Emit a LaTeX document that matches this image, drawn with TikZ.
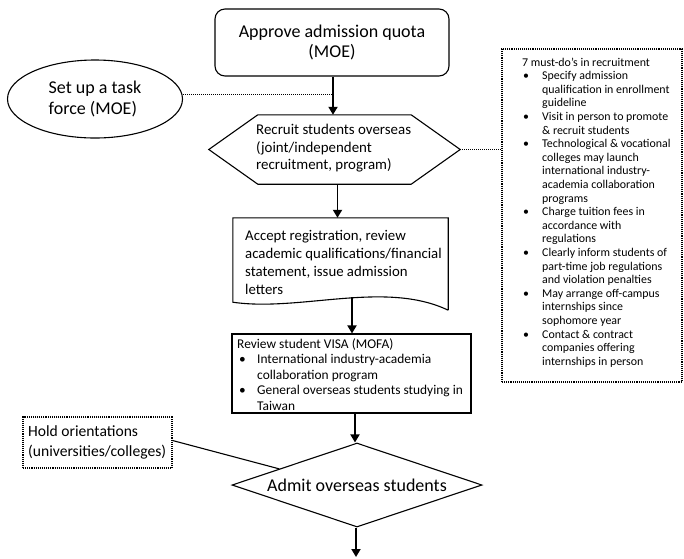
\documentclass[tikz,border=0pt]{standalone}
\usepackage{fontspec}
\setmainfont{Carlito}
\usetikzlibrary{shapes.geometric,arrows.meta,calc}
\begin{document}
\begin{tikzpicture}[x=1pt,y=-1pt,
  box/.style={draw, line width=1.1pt, inner sep=0pt},
  dotbox/.style={draw, line width=1.1pt, densely dotted, inner sep=0pt},
  arr/.style={line width=1.8pt,-{Triangle[length=8pt,width=9pt]}},
  dotline/.style={line width=1pt,densely dotted},
  plain/.style={line width=1.1pt},
  ghost/.style={inner sep=0pt, draw=none},
  txt/.style={inner sep=0pt, align=left, anchor=base west},
]
\useasboundingbox (0,0) rectangle (684,558);

% Approve
\node[box, rounded corners=10pt, minimum width=234pt, minimum height=67pt, align=center,
  font=\fontsize{18}{20.5}\selectfont] (approve) at (332,42.5) {Approve admission quota\\(MOE)};

% Task force ellipse
\node[box, ellipse, minimum width=175pt, minimum height=78pt, align=left,
  font=\fontsize{18}{21}\selectfont] (task) at (95,99) {Set up a task\\force (MOE)};

% Hexagon
\node[ghost, minimum width=251pt, minimum height=69pt] (hex) at (334.5,149.5) {};
\draw[plain] (hex.west) -- ([xshift=49pt]hex.north west) -- ([xshift=-49pt]hex.north east)
  -- (hex.east) -- ([xshift=-49pt]hex.south east) -- ([xshift=49pt]hex.south west) -- cycle;
\node[txt, font=\fontsize{14.9}{17.5}\selectfont] (hext) at (256,169.5) {Recruit students overseas\\(joint/independent\\recruitment, program)};

% Must-do box
\node[dotbox, minimum width=180pt, minimum height=333pt] (must) at (592,215.5) {};
\node[txt, font=\fontsize{11.9}{13.6}\selectfont] (mustt) at (522,365.2) {%
7 must-do’s in recruitment\\
\makebox[20pt][l]{\hspace{1pt}•}Specify admission\\
\hspace*{20pt}qualification in enrollment\\
\hspace*{20pt}guideline\\
\makebox[20pt][l]{\hspace{1pt}•}Visit in person to promote\\
\hspace*{20pt}\& recruit students\\
\makebox[20pt][l]{\hspace{1pt}•}Technological \& vocational\\
\hspace*{20pt}colleges may launch\\
\hspace*{20pt}international industry-\\
\hspace*{20pt}academia collaboration\\
\hspace*{20pt}programs\\
\makebox[20pt][l]{\hspace{1pt}•}Charge tuition fees in\\
\hspace*{20pt}accordance with\\
\hspace*{20pt}regulations\\
\makebox[20pt][l]{\hspace{1pt}•}Clearly inform students of\\
\hspace*{20pt}part-time job regulations\\
\hspace*{20pt}and violation penalties\\
\makebox[20pt][l]{\hspace{1pt}•}May arrange off-campus\\
\hspace*{20pt}internships since\\
\hspace*{20pt}sophomore year\\
\makebox[20pt][l]{\hspace{1pt}•}Contact \& contract\\
\hspace*{20pt}companies offering\\
\hspace*{20pt}internships in person};

% Document (wave) box
\node[ghost, minimum width=215pt, minimum height=82pt] (doc) at (340.5,259) {};
\draw[plain] ([yshift=-10pt]doc.south east) -- (doc.north east) -- (doc.north west) -- ([yshift=-2pt]doc.south west)
  .. controls (300,312) and (385,280) .. ([yshift=-10pt]doc.south east);
\node[txt, font=\fontsize{14.8}{18}\selectfont] (doct) at (245,294.5) {Accept registration, review\\academic qualifications/financial\\statement, issue admission\\letters};

% VISA box
\node[box, minimum width=239pt, minimum height=79pt] (visa) at (351.5,373.5) {};
\node[txt, font=\fontsize{13.4}{15.5}\selectfont] (visat) at (237,410) {%
Review student VISA (MOFA)\\
\makebox[20pt][l]{\hspace{2pt}•}International industry-academia\\
\hspace*{20pt}collaboration program\\
\makebox[20pt][l]{\hspace{2pt}•}General overseas students studying in\\
\hspace*{20pt}Taiwan};

% Diamond
\node[box, diamond, aspect=3, minimum width=250pt, minimum height=84pt,
  font=\fontsize{18}{20}\selectfont] (admit) at (357,485) {Admit overseas students};

% Hold orientations
\node[dotbox, minimum width=149pt, minimum height=51pt] (hold) at (97.5,442.5) {};
\node[txt, font=\fontsize{15.6}{20}\selectfont] (holdt) at (28,456) {Hold orientations\\(universities/colleges)};

% Connectors
\coordinate (j1) at (333,94);
\coordinate (docbot) at (352,297);
\coordinate (endpt) at (356,557);
\draw[dotline] (task.east |- j1) -- (j1);
\draw[arr] (approve.south -| j1) -- (hex.north -| j1);
\draw[dotline] (hex.east) -- (hex.east -| must.west);
\draw[arr] ([xshift=3pt]hex.south) -- ([xshift=3pt]hex.south |- doc.north);
\draw[arr] (docbot) -- (docbot |- visa.north);
\draw[arr] ([xshift=3.5pt]visa.south) -- ([xshift=3.5pt]visa.south |- admit.north);
\draw[arr] ([xshift=-1pt]admit.south) -- (endpt);
\draw[plain] ([yshift=2pt]hold.east) -- ($(admit.west)!0.38!(admit.north)$);
\end{tikzpicture}
\end{document}
